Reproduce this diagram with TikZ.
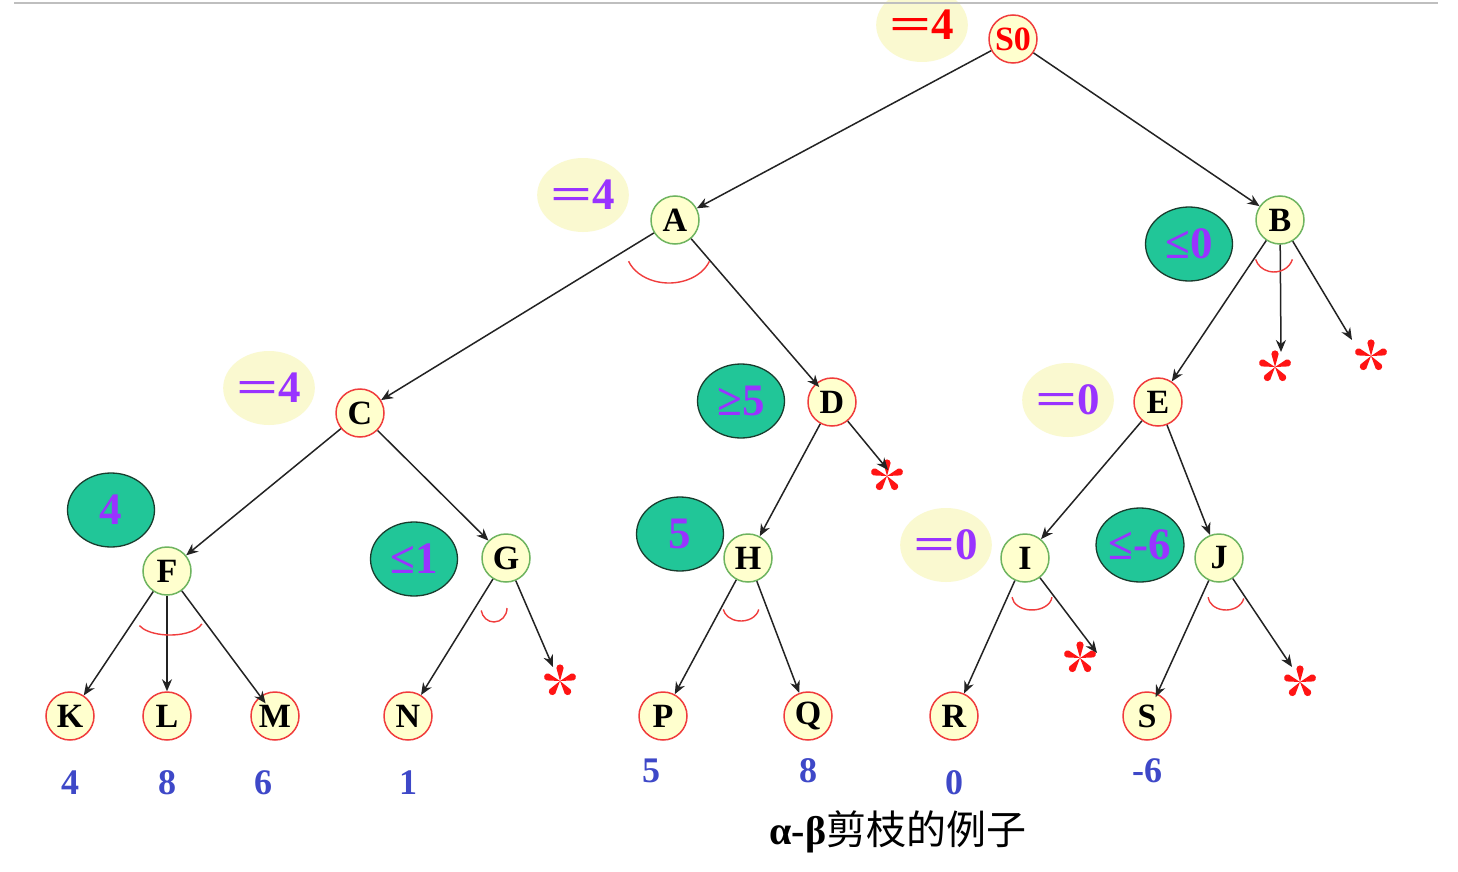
\documentclass[tikz,border=0pt]{standalone}
\usepackage{fontspec}
\usepackage{graphicx}
\setmainfont{Liberation Serif}
\newfontfamily\cjk{Noto Sans CJK SC}
\usetikzlibrary{arrows.meta,shapes.geometric}
\definecolor{nodefill}{RGB}{255,255,206}
\definecolor{ovalfill}{RGB}{250,249,208}
\definecolor{tealfill}{RGB}{33,198,152}
\definecolor{tealline}{RGB}{25,60,45}
\definecolor{purp}{RGB}{153,51,255}
\definecolor{bluev}{RGB}{62,72,200}
\definecolor{redb}{RGB}{240,60,60}
\definecolor{greenb}{RGB}{110,180,95}
\definecolor{edgec}{RGB}{35,35,35}
\definecolor{starred}{RGB}{255,20,20}
\newcommand\weq{\scalebox{1.65}[1]{=}}
\tikzset{
  tn/.style={circle, minimum size=48pt, inner sep=0pt, fill=nodefill, line width=1.5pt,
    font=\fontsize{34}{34}\selectfont\bfseries},
  rn/.style={tn, draw=redb},
  gn/.style={tn, draw=greenb},
  yoval/.style={ellipse, fill=ovalfill, minimum width=87pt, minimum height=74pt, inner sep=0pt,
    text=purp, font=\fontsize{45}{45}\selectfont\bfseries},
  toval/.style={yoval, fill=tealfill, draw=tealline, line width=1.3pt},
  edge/.style={draw=edgec, line width=1.5pt, -{Stealth[length=12pt,width=10pt]}},
  leaf/.style={text=bluev, inner sep=0pt, font=\fontsize{36}{36}\selectfont\bfseries},
  marc/.style={draw=redb, line width=1.4pt},
  astar/.pic={
    \foreach \a in {270,342,54,126,198}{
      \fill[starred] (0,0) -- ([shift={(\a+90:3.6)}]\a:13) arc[start angle=\a+90, end angle=\a-90, radius=3.6] -- cycle;
    }
  }
}
\begin{document}
\begin{tikzpicture}[x=1pt,y=-1pt]
\path[use as bounding box, clip] (0,0) rectangle (1458,872);
\fill[white] (0,0) rectangle (1458,872);

% value ovals
\node[yoval, text=red] (o0) at (922,25) {\weq4};
\node[yoval] (oA) at (583,195) {\weq4};
\node[yoval] (oC) at (269,388) {\weq4};
\node[toval] (oB) at (1189,244) {≤0};
\node[toval] (oD) at (741,401) {≥5};
\node[yoval] (oE) at (1068,400) {\weq0};
\node[toval] (oF) at (111,510) {4};
\node[toval] (oG) at (414,559) {≤1};
\node[toval] (oH) at (680,534) {5};
\node[yoval] (oI) at (946,545) {\weq0};
\node[toval] (oJ) at (1140,545) {≤-6};

% tree nodes
\node[rn, text=red] (S0) at (1013,39) {S0};
\node[gn] (A) at (675,220) {A};
\node[gn] (B) at (1280,220) {B};
\node[rn] (C) at (360,413) {C};
\node[rn] (D) at (832,402) {D};
\node[rn] (E) at (1158,402) {E};
\node[gn] (F) at (167,571) {F};
\node[gn] (G) at (506,558) {G};
\node[gn] (H) at (748,558) {H};
\node[gn] (I) at (1025,558) {I};
\node[gn] (J) at (1219,558) {J};
\node[rn] (K) at (70,716) {K};
\node[rn] (L) at (167,716) {L};
\node[rn] (M) at (275,716) {M};
\node[rn] (N) at (408,716) {N};
\node[rn] (P) at (663,716) {P};
\node[rn] (Q) at (808,716) {Q};
\node[rn] (R) at (954,716) {R};
\node[rn] (S) at (1147,716) {S};

% leaf values
\node[leaf] (vK) at (70,783) {4};
\node[leaf] (vL) at (167,783) {8};
\node[leaf] (vM) at (263,783) {6};
\node[leaf] (vN) at (408,783) {1};
\node[leaf] (vP) at (651,771) {5};
\node[leaf] (vQ) at (808,771) {8};
\node[leaf] (vR) at (954,783) {0};
\node[leaf] (vS) at (1147,771) {-6};

% pruned branches (stars)
\coordinate (sB1) at (1275,367); \coordinate (tB1) at (1281,352);
\coordinate (sB2) at (1371,356); \coordinate (tB2) at (1352,340);
\coordinate (sD) at (887,476);   \coordinate (tD) at (888,470);
\coordinate (sG) at (560,681);   \coordinate (tG) at (553,667);
\coordinate (sI) at (1080,658);  \coordinate (tI) at (1097,653);
\coordinate (sJ) at (1300,682);  \coordinate (tJ) at (1292,667);
\foreach \s in {sB1,sB2,sD,sG,sI,sJ}{ \pic at (\s) {astar}; }

% edges
\draw[edge] (S0) -- (A);
\draw[edge] (S0) -- (B);
\draw[edge] (A) -- (C);
\draw[edge, shorten >=-5pt] (A) -- (D);
\draw[edge] (B) -- (E);
\draw[edge] (B) -- (tB1);
\draw[edge] (B) -- (tB2);
\draw[edge] (C) -- (F);
\draw[edge] (C) -- (G);
\draw[edge] (D) -- (H);
\draw[edge] (D) -- (tD);
\draw[edge] (E) -- (I);
\draw[edge] (E) -- (J);
\draw[edge] (F) -- (K);
\draw[edge] (F) -- (L);
\draw[edge, shorten >=-9pt] (F) -- (M);
\draw[edge] (G) -- (N);
\draw[edge] (G) -- (tG);
\draw[edge] (H) -- (P);
\draw[edge] (H) -- (Q);
\draw[edge] (I) -- (R);
\draw[edge] (I) -- (tI);
\draw[edge, shorten >=-4pt] (J) -- (S);
\draw[edge] (J) -- (tJ);

% min/max arcs
\draw[marc] (669,250) ++(20:43 and 33) arc[start angle=20, end angle=160, x radius=43, y radius=33];
\draw[marc] (1274,255) ++(15:19 and 17) arc[start angle=15, end angle=165, x radius=19, y radius=17];
\draw[marc] (170,620) ++(15:33 and 15) arc[start angle=15, end angle=158, x radius=33, y radius=15];
\draw[marc] (494,608) ++(0:13 and 14) arc[start angle=0, end angle=170, x radius=13, y radius=14];
\draw[marc] (741,607) ++(10:18 and 14) arc[start angle=10, end angle=170, x radius=18, y radius=14];
\draw[marc] (1032,596) ++(5:20 and 14) arc[start angle=5, end angle=175, x radius=20, y radius=14];
\draw[marc] (1226,596) ++(10:18 and 14) arc[start angle=10, end angle=175, x radius=18, y radius=14];

% caption
\node (cap) at (898,832) {\fontsize{40}{40}\selectfont\bfseries α-β{\cjk\mdseries 剪枝的例子}};

% top rule
\draw[black!25, line width=1.5pt] (14,3) -- (1438,3);
\end{tikzpicture}
\end{document}
